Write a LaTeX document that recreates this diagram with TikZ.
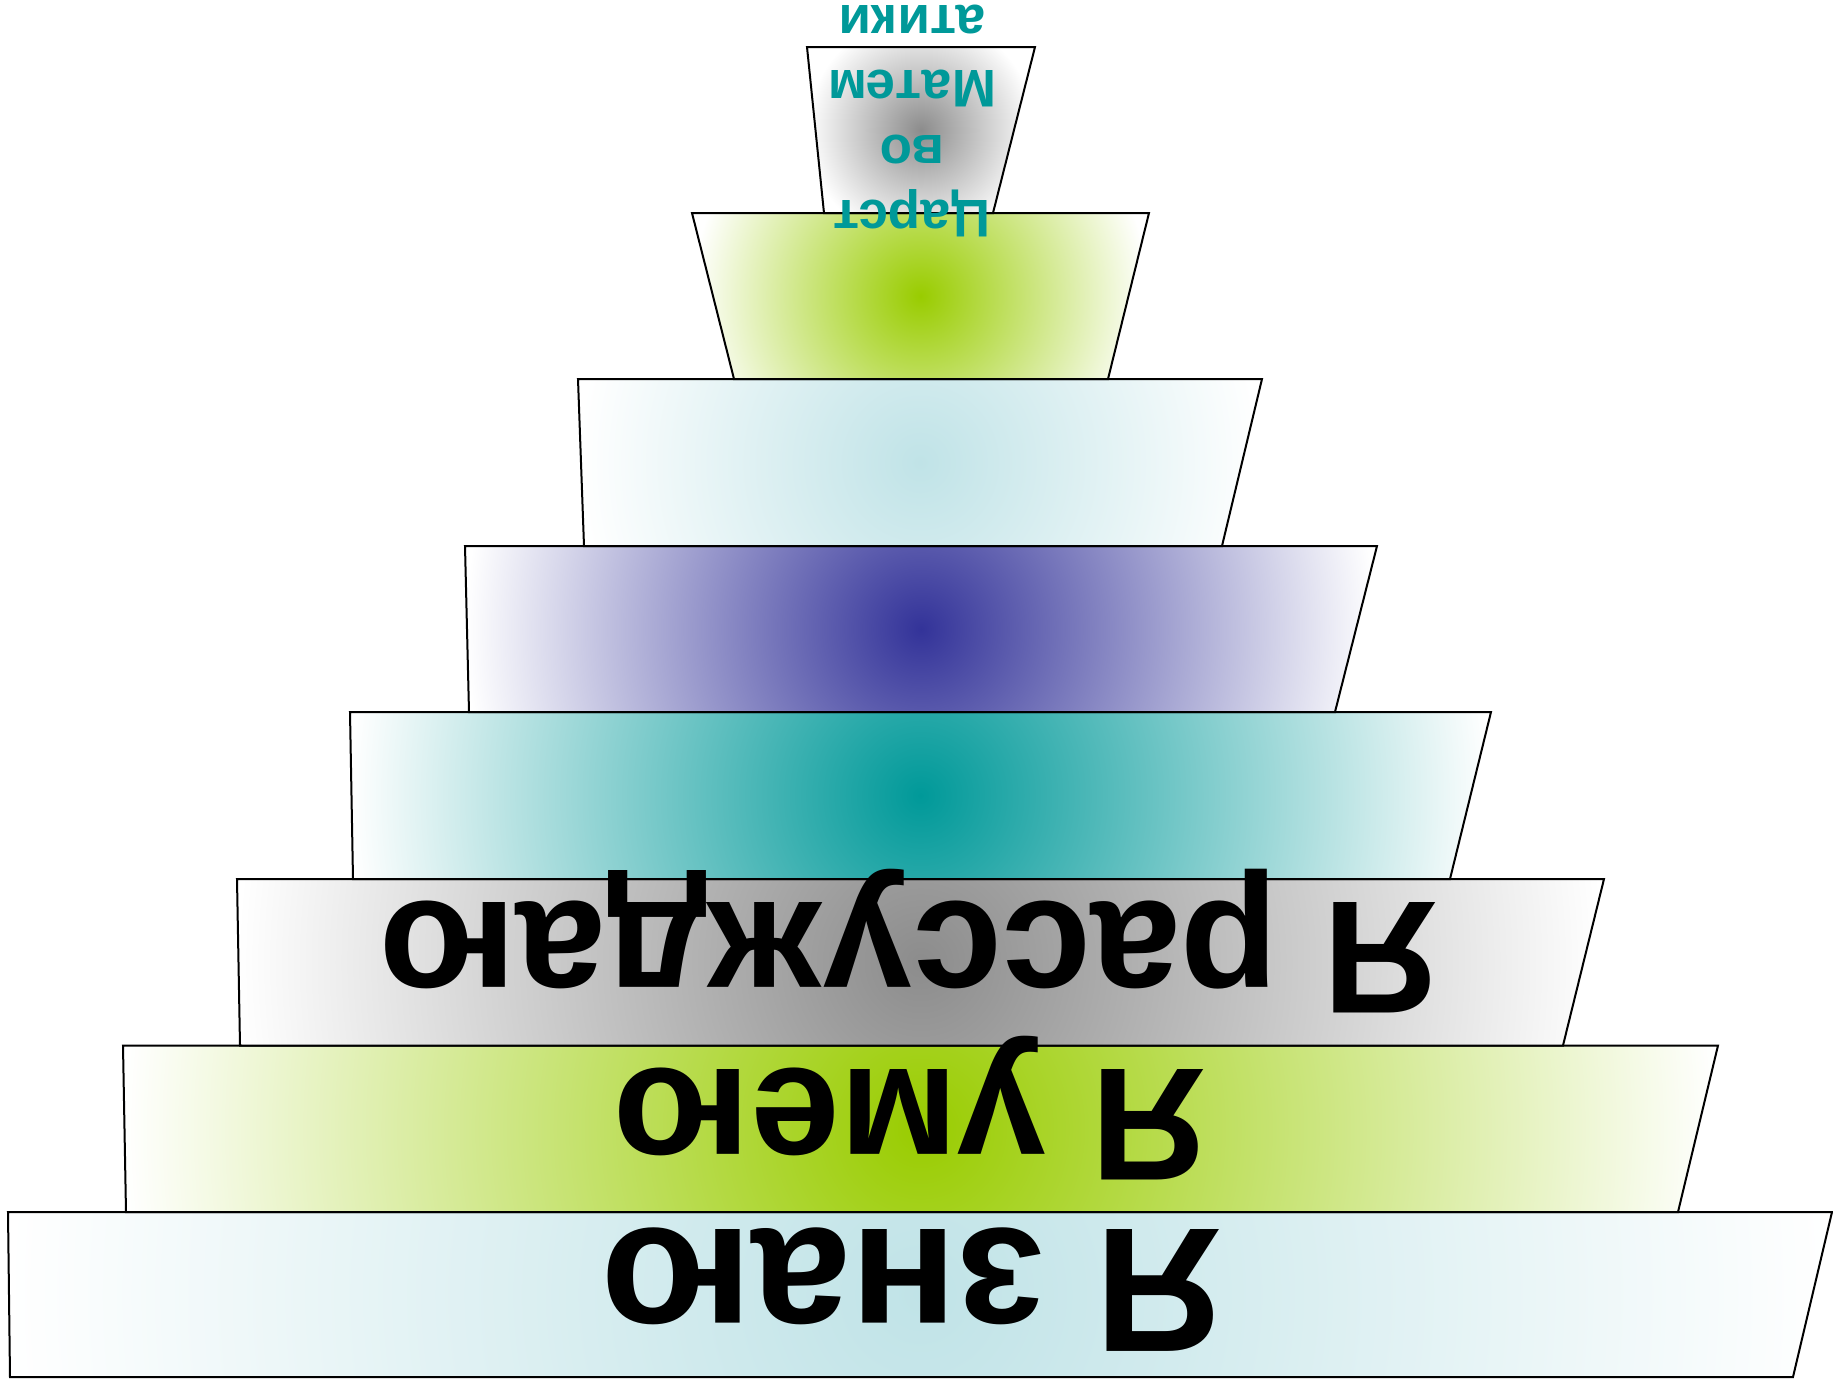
\documentclass[tikz,border=0pt]{standalone}
\usepackage{fontspec}
\setmainfont{Liberation Sans}
\usepackage{tikz}
\usetikzlibrary{calc}
\definecolor{frost}{HTML}{C0E3E7}
\definecolor{lime}{HTML}{99CC00}
\definecolor{stone}{HTML}{8C8C8C}
\definecolor{lagoon}{HTML}{009999}
\definecolor{dusk}{HTML}{333399}
\tikzset{
	glow/.style={path picture={
		\shade[inner color=#1, outer color=white]
			let \p1=(path picture bounding box.south west),
			    \p2=(path picture bounding box.north east)
			in ($(\p1)!0.5!(\p2)$) circle ({(\x2-\x1)/2});
	}},
	tier/.style={draw=black, line width=1pt, line join=miter, glow=#1},
	bigword/.style={inner sep=0pt, rotate=180, anchor=base, text=black,
		font=\bfseries\fontsize{80.3}{90}\selectfont},
	topword/.style={inner sep=0pt, rotate=180, align=center, text=lagoon,
		font=\bfseries\fontsize{26.5}{32.5}\selectfont},
}
\begin{document}
\begin{tikzpicture}[x=0.5pt, y=-0.5pt]
	\useasboundingbox (0,0) rectangle (1833,1378);

	% tiers, widest at the bottom
	\draw[tier=frost] (8,1212) -- (1832,1212) -- (1793,1377) -- (10,1377) -- cycle;
	\draw[tier=lime]  (123,1045.5) -- (1718,1045.5) -- (1678,1212) -- (126,1212) -- cycle;
	\draw[tier=stone] (237,879) -- (1604,879) -- (1563,1045.5) -- (240,1045.5) -- cycle;
	\draw[tier=lagoon] (350,712) -- (1491,712) -- (1450,879) -- (353,879) -- cycle;
	\draw[tier=dusk]  (465,546) -- (1377,546) -- (1335,712) -- (469,712) -- cycle;
	\draw[tier=frost] (578,379) -- (1262,379) -- (1222,546) -- (584,546) -- cycle;
	\draw[tier=lime]  (692,213) -- (1149,213) -- (1108,379) -- (734,379) -- cycle;
	\draw[tier=stone] (807,47) -- (1035,47) -- (993,213) -- (824,213) -- cycle;

	\node[bigword, font=\bfseries\fontsize{88.6}{100}\selectfont] (know) at (911.5,1229) {Я знаю};
	\node[bigword] (able) at (910,1069) {Я умею};
	\node[bigword] (reason) at (909,902) {Я рассуждаю};

	\node[topword] (realm) at (912,121) {Царст\\во\\Матем\\атики};
\end{tikzpicture}
\end{document}
